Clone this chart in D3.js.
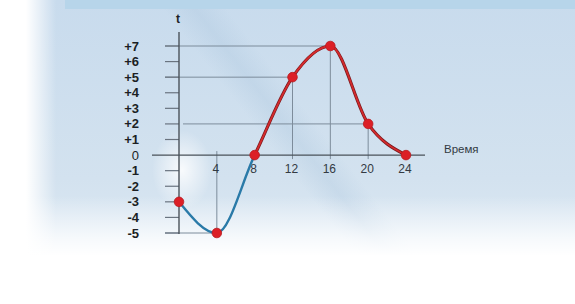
<!DOCTYPE html>
<html><head><meta charset="utf-8">
<script src="https://cdn.jsdelivr.net/npm/d3@7"></script>
<style>html,body{margin:0;padding:0;background:#fff;}svg{display:block;}</style>
</head><body>
<script>
const hours = [0, 4, 8, 12, 16, 20, 24];
const temps = [-3, -5, 0, 5, 7, 2, 0];
const yTicks = [-5, -4, -3, -2, -1, 0, 1, 2, 3, 4, 5, 6, 7];
const yTickLabels = ["-5", "-4", "-3", "-2", "-1", "0", "+1", "+2", "+3", "+4", "+5", "+6", "+7"];
const xTicks = [4, 8, 12, 16, 20, 24];
const xTickLabels = ["4", "8", "12", "16", "20", "24"];
const guideHours = [4, 12, 16, 20];
const splitHour = 8;

const W = 575, H = 304;
const svg = d3.select("body").append("svg").attr("width", W).attr("height", H);
const defs = svg.append("defs");

// background gradients
const vg = defs.append("linearGradient").attr("id", "bgv").attr("x1", 0).attr("y1", 0).attr("x2", 0).attr("y2", 1);
vg.append("stop").attr("offset", "0%").attr("stop-color", "#c8dbed");
vg.append("stop").attr("offset", "70%").attr("stop-color", "#d3e2ef");
vg.append("stop").attr("offset", "100%").attr("stop-color", "#dde9f4");
const fg = defs.append("linearGradient").attr("id", "fade").attr("x1", 0).attr("y1", 0).attr("x2", 0).attr("y2", 1);
fg.append("stop").attr("offset", "0%").attr("stop-color", "#ffffff").attr("stop-opacity", 0);
fg.append("stop").attr("offset", "70%").attr("stop-color", "#ffffff").attr("stop-opacity", 0.75);
fg.append("stop").attr("offset", "100%").attr("stop-color", "#ffffff").attr("stop-opacity", 1);
const hg = defs.append("linearGradient").attr("id", "bgh").attr("x1", 0).attr("y1", 0).attr("x2", 1).attr("y2", 0);
hg.append("stop").attr("offset", "0%").attr("stop-color", "#ffffff").attr("stop-opacity", 1);
hg.append("stop").attr("offset", "100%").attr("stop-color", "#ffffff").attr("stop-opacity", 0);
const rg = defs.append("radialGradient").attr("id", "glow");
rg.append("stop").attr("offset", "0%").attr("stop-color", "#ffffff").attr("stop-opacity", 0.85);
rg.append("stop").attr("offset", "100%").attr("stop-color", "#ffffff").attr("stop-opacity", 0);
const dg = defs.append("linearGradient").attr("id", "streak").attr("x1", 0).attr("y1", 0).attr("x2", 1).attr("y2", 0);
dg.append("stop").attr("offset", "0%").attr("stop-color", "#a9c4dc").attr("stop-opacity", 0);
dg.append("stop").attr("offset", "50%").attr("stop-color", "#a9c4dc").attr("stop-opacity", 0.3);
dg.append("stop").attr("offset", "100%").attr("stop-color", "#a9c4dc").attr("stop-opacity", 0);
defs.append("clipPath").attr("id", "panel").append("rect")
  .attr("x", 26).attr("y", 0).attr("width", W - 26).attr("height", 256);

svg.append("rect").attr("x", 0).attr("y", 0).attr("width", W).attr("height", H).attr("fill", "#fff");
svg.append("rect").attr("x", 26).attr("y", 0).attr("width", W - 26).attr("height", 256).attr("fill", "url(#bgv)");
svg.append("g").attr("clip-path", "url(#panel)").append("rect")
  .attr("x", 280).attr("y", -80).attr("width", 50).attr("height", 460)
  .attr("transform", "rotate(-38 305 150)").attr("fill", "url(#streak)");
svg.append("rect").attr("x", 26).attr("y", 196).attr("width", W - 26).attr("height", 60).attr("fill", "url(#fade)");
svg.append("rect").attr("x", 26).attr("y", 0).attr("width", 30).attr("height", 256).attr("fill", "url(#bgh)");
svg.append("rect").attr("x", 65).attr("y", 0).attr("width", W - 65).attr("height", 9).attr("fill", "#b7d5ea");
svg.append("ellipse").attr("cx", 182).attr("cy", 170).attr("rx", 30).attr("ry", 40).attr("fill", "url(#glow)");

const x = d3.scaleLinear().domain([0, 24]).range([179, 406]);
const y = d3.scaleLinear().domain([-5, 7]).range([233, 46]);

const gridCol = "#7d8c9b";
const g = svg.append("g");

// horizontal guides
const hGuides = [
  {v: 7, x0: 165, h: 16},
  {v: 5, x0: 165, h: 12},
  {v: 2, x0: 183, h: 20},
  {v: -5, x0: 165, h: 4}
];
g.selectAll(".hg").data(hGuides).enter().append("line")
  .attr("x1", d => d.x0).attr("x2", d => x(d.h))
  .attr("y1", d => y(d.v)).attr("y2", d => y(d.v))
  .attr("stroke", gridCol).attr("stroke-width", 1);

// vertical guides
g.selectAll(".vg").data(guideHours).enter().append("line")
  .attr("x1", d => x(d)).attr("x2", d => x(d))
  .attr("y1", d => d === 4 ? y(0) - 4 : y(temps[hours.indexOf(d)]))
  .attr("y2", d => d === 4 ? y(-5) : y(0) + 4)
  .attr("stroke", gridCol).attr("stroke-width", 1);

// y ticks
g.selectAll(".yt").data(yTicks.filter(d => d !== 0)).enter().append("line")
  .attr("x1", 165).attr("x2", x(0)).attr("y1", d => y(d)).attr("y2", d => y(d))
  .attr("stroke", "#6a7480").attr("stroke-width", 1.2);

// axes
g.append("line").attr("x1", x(0)).attr("x2", x(0)).attr("y1", 32).attr("y2", y(-5) + 1)
  .attr("stroke", "#4a525a").attr("stroke-width", 1.4);
g.append("line").attr("x1", 152).attr("x2", 425).attr("y1", y(0)).attr("y2", y(0))
  .attr("stroke", "#4a525a").attr("stroke-width", 1.4);

// y tick labels
g.selectAll(".yl").data(yTicks).enter().append("text")
  .attr("x", 139).attr("y", d => y(d)).attr("dy", "0.35em")
  .attr("text-anchor", "end")
  .attr("font-family", "Liberation Sans, Arial, sans-serif")
  .attr("font-size", 13).attr("font-weight", d => d === 0 ? "normal" : "bold")
  .attr("fill", "#1c1f24")
  .text((d, i) => yTickLabels[i]);

// x tick labels
g.selectAll(".xl").data(xTicks).enter().append("text")
  .attr("x", d => x(d) - 1).attr("y", y(0) + 18)
  .attr("text-anchor", "middle")
  .attr("font-family", "Liberation Sans, Arial, sans-serif")
  .attr("font-size", 12).attr("fill", "#333a42")
  .text((d, i) => xTickLabels[i]);

g.append("text").attr("x", 178).attr("y", 23).attr("text-anchor", "middle")
  .attr("font-family", "Liberation Sans, Arial, sans-serif").attr("font-size", 12)
  .attr("font-weight", "bold").attr("fill", "#1c1f24").text("t");
g.append("text").attr("x", 444).attr("y", 153)
  .attr("font-family", "Liberation Sans, Arial, sans-serif").attr("font-size", 11.5)
  .attr("fill", "#333a42").text("Время");

// curve
const pts = hours.map((h, i) => [h, temps[i]]);
const line = d3.line().x(d => x(d[0])).y(d => y(d[1])).curve(d3.curveMonotoneX);
defs.append("clipPath").attr("id", "cBlue").append("rect")
  .attr("x", 0).attr("y", 0).attr("width", x(splitHour)).attr("height", H);
defs.append("clipPath").attr("id", "cRed").append("rect")
  .attr("x", x(splitHour)).attr("y", 0).attr("width", W).attr("height", H);

g.append("path").datum(pts).attr("d", line).attr("fill", "none")
  .attr("stroke", "#2a7aa8").attr("stroke-width", 2.4).attr("clip-path", "url(#cBlue)");
g.append("path").datum(pts).attr("d", line).attr("fill", "none")
  .attr("stroke", "#7a1a1e").attr("stroke-width", 3.2).attr("clip-path", "url(#cRed)");
g.append("path").datum(pts).attr("d", line).attr("fill", "none")
  .attr("stroke", "#d42a2c").attr("stroke-width", 1.8).attr("clip-path", "url(#cRed)");

// points
g.selectAll(".pt").data(pts).enter().append("circle")
  .attr("cx", d => x(d[0])).attr("cy", d => y(d[1])).attr("r", 4.8)
  .attr("fill", "#dc1f26").attr("stroke", "#b81a20").attr("stroke-width", 0.8);
</script>
</body></html>
